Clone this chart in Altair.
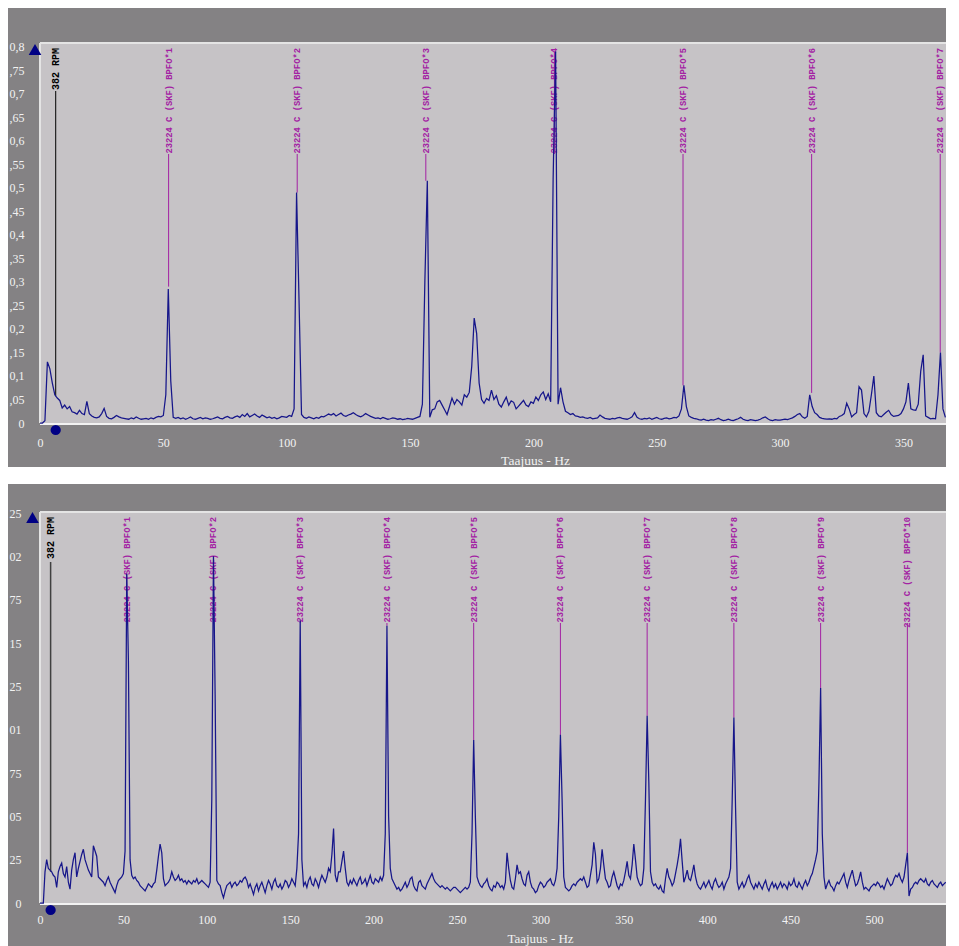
import json
import altair as alt
import pandas as pd

# ---------------- data ----------------
rpm_label = "382 RPM"
rpm_hz = 382 / 60
bpfo_name = "23224 C (SKF) BPFO"
x_title = "Taajuus - Hz"

# upper spectrum, 1 Hz bins, amplitude in thousandths
top_df_hz = 1.0
top_amp_milli = [
    0, 0, 5, 130, 115, 85, 60, 53, 48, 32,
    38, 30, 35, 24, 22, 19, 27, 20, 18, 46,
    20, 15, 12, 11, 13, 20, 31, 14, 10, 9,
    12, 16, 13, 11, 10, 9, 8, 11, 9, 13,
    10, 8, 9, 10, 8, 11, 9, 12, 14, 13,
    16, 60, 285, 90, 12, 10, 12, 9, 11, 8,
    10, 13, 9, 8, 10, 12, 9, 11, 10, 8,
    9, 11, 13, 10, 9, 12, 14, 11, 10, 13,
    15, 12, 18, 14, 20, 13, 16, 19, 15, 12,
    17, 14, 11, 13, 10, 12, 9, 11, 14, 13,
    12, 16, 14, 30, 490, 260, 18, 12, 10, 13,
    11, 9, 12, 10, 14, 13, 16, 19, 17, 20,
    15, 18, 21, 16, 14, 17, 19, 22, 18, 15,
    13, 16, 20, 17, 14, 12, 10, 11, 9, 12,
    10, 8, 9, 11, 10, 8, 9, 7, 8, 10,
    9, 8, 10, 12, 14, 40, 300, 515, 12, 28,
    30, 45, 48, 38, 28, 18, 35, 53, 40, 50,
    45, 38, 60, 55, 65, 120, 223, 190, 85, 50,
    42, 52, 48, 70, 50, 58, 40, 34, 45, 55,
    38, 47, 44, 30, 36, 42, 48, 38, 35, 45,
    42, 55, 48, 60, 66, 50, 62, 45, 520, 790,
    40, 75, 45, 25, 22, 18, 20, 15, 14, 12,
    13, 11, 10, 12, 9, 10, 11, 17, 13, 10,
    9, 8, 10, 9, 11, 12, 10, 9, 8, 10,
    13, 22, 12, 9, 8, 10, 9, 11, 8, 10,
    12, 9, 8, 10, 11, 9, 10, 12, 11, 15,
    30, 80, 35, 15, 12, 10, 9, 7, 6, 8,
    6, 5, 7, 6, 8, 10, 7, 5, 6, 8,
    6, 5, 7, 9, 12, 8, 6, 5, 7, 6,
    5, 6, 8, 11, 13, 9, 6, 5, 7, 6,
    6, 7, 8, 7, 9, 11, 14, 18, 20, 13,
    10, 14, 60, 35, 22, 18, 12, 10, 9, 8,
    9, 8, 10, 9, 14, 16, 20, 42, 30, 13,
    18, 22, 77, 70, 20, 13, 25, 60, 100, 22,
    15, 13, 18, 23, 27, 18, 14, 15, 16, 20,
    30, 45, 85, 30, 28, 27, 40, 110, 145, 15,
    12, 9, 10, 9, 60, 150, 30, 12, 20, 14,
    9, 11, 13,
]
top_bpfo_hz = 52.13
top_marker_amp = [0.29, 0.49, 0.515, 0.79, 0.08, 0.064, 0.15]
top_rpm_amp = 0.057
top_x_ticks = [0, 50, 100, 150, 200, 250, 300, 350]
top_y_ticks = [0, 0.05, 0.1, 0.15, 0.2, 0.25, 0.3, 0.35, 0.4,
               0.45, 0.5, 0.55, 0.6, 0.65, 0.7, 0.75, 0.8]
top_y_labels = ["0", ",05", "0,1", ",15", "0,2", ",25", "0,3", ",35", "0,4",
                ",45", "0,5", ",55", "0,6", ",65", "0,7", ",75", "0,8"]

# lower spectrum, 1 Hz bins, amplitude in thousandths
bottom_df_hz = 1.0
bottom_amp_milli = [
    0, 0, 0, 18, 25, 20, 19, 18, 16, 15,
    9, 18, 21, 23, 17, 15, 21, 12, 8, 19,
    25, 29, 15, 20, 24, 28, 31, 25, 22, 19,
    17, 15, 33, 30, 27, 15, 14, 13, 12, 10,
    13, 15, 12, 10, 8, 6, 10, 13, 14, 15,
    17, 30, 190, 140, 25, 16, 14, 15, 13, 12,
    10, 9, 8, 7, 9, 11, 10, 9, 11, 12,
    19, 27, 34, 29, 14, 10, 11, 12, 14, 18,
    15, 13, 14, 16, 13, 14, 12, 13, 11, 13,
    12, 11, 13, 12, 14, 11, 12, 13, 12, 11,
    10, 9, 12, 60, 200, 120, 13, 11, 10, 6,
    3, 7, 10, 11, 12, 9, 11, 12, 10, 11,
    13, 12, 14, 15, 13, 9, 11, 8, 5, 9,
    11, 7, 10, 12, 9, 6, 10, 13, 11, 8,
    12, 14, 10, 9, 11, 8, 10, 13, 12, 9,
    11, 14, 12, 10, 20, 40, 163, 25, 10, 12,
    9, 13, 15, 11, 10, 14, 12, 9, 13, 16,
    14, 12, 15, 20, 18, 28, 43, 16, 12, 18,
    18, 24, 30, 20, 12, 10, 13, 11, 14, 12,
    10, 13, 15, 11, 12, 14, 10, 13, 16, 12,
    11, 14, 13, 12, 15, 13, 16, 40, 160, 50,
    20, 14, 12, 10, 8, 9, 7, 8, 10, 12,
    9, 11, 14, 15, 10, 8, 7, 12, 13, 10,
    9, 8, 11, 13, 15, 17, 14, 12, 11, 10,
    9, 10, 9, 8, 9, 8, 7, 8, 9, 9,
    8, 7, 6, 7, 8, 9, 8, 9, 12, 40,
    94, 50, 15, 12, 10, 9, 11, 12, 14, 10,
    8, 7, 10, 9, 12, 11, 9, 10, 8, 12,
    29, 20, 13, 9, 8, 14, 22, 17, 18, 14,
    11, 10, 16, 18, 12, 9, 8, 6, 7, 10,
    12, 11, 9, 10, 12, 13, 14, 11, 10, 13,
    20, 50, 97, 60, 15, 9, 8, 7, 8, 10,
    11, 10, 12, 13, 14, 13, 15, 12, 9, 10,
    16, 22, 35, 28, 12, 14, 20, 31, 22, 14,
    12, 9, 10, 15, 18, 14, 10, 8, 11, 10,
    13, 18, 24, 16, 14, 22, 34, 25, 15, 12,
    10, 11, 20, 60, 108, 70, 18, 12, 10, 11,
    9, 8, 10, 7, 6, 14, 20, 15, 13, 10,
    12, 17, 22, 28, 37, 24, 12, 15, 19, 14,
    13, 17, 22, 15, 11, 9, 8, 10, 12, 9,
    11, 13, 10, 8, 12, 14, 11, 9, 10, 12,
    8, 11, 13, 15, 20, 60, 107, 55, 12, 8,
    10, 12, 9, 11, 14, 16, 12, 10, 8, 11,
    9, 12, 10, 8, 11, 13, 9, 7, 10, 12,
    9, 11, 8, 10, 12, 9, 11, 10, 8, 12,
    10, 11, 14, 10, 9, 12, 10, 8, 11, 13,
    10, 12, 15, 17, 21, 25, 30, 70, 124, 40,
    15, 8, 11, 13, 10, 9, 7, 10, 12, 11,
    13, 15, 17, 12, 9, 13, 16, 19, 14, 10,
    11, 14, 18, 12, 8, 9, 8, 7, 9, 10,
    11, 10, 12, 11, 9, 10, 8, 11, 14, 12,
    10, 11, 14, 16, 15, 17, 14, 12, 15, 22,
    29, 4, 8, 9, 11, 12, 11, 13, 14, 13,
    12, 14, 11, 10, 12, 13, 11, 10, 9, 11,
    12, 10, 11, 12, 13,
]
bottom_bpfo_hz = 52.0
bottom_marker_amp = [0.19, 0.2, 0.163, 0.16, 0.094, 0.097, 0.108, 0.107, 0.124, 0.029]
bottom_rpm_amp = 0.018
bottom_x_ticks = [0, 50, 100, 150, 200, 250, 300, 350, 400, 450, 500]
bottom_y_ticks = [0, 0.025, 0.05, 0.075, 0.1, 0.125, 0.15, 0.175, 0.2, 0.225]
bottom_y_labels = ["0", "25", "05", "75", "01", "25", "15", "75", "02", "25"]

# ---------------- style ----------------
DARK = "#848284"
LIGHT = "#c6c3c6"
BORDER = "#e4e4e4"
LABEL = "#f2f2f2"
NAVY = "#000084"
LINE = "#16168a"
MAG = "#a321a3"
SERIF = "Liberation Serif"
MONO = "Liberation Mono"
LEFT = 32
PLOT_W = 906


def panel(amp_milli, df_hz, bpfo_hz, marker_amp, rpm_amp, x_ticks, x_max,
          y_ticks, y_labels, y_step, y_max, width, height, pad_top, pad_bottom,
          label_pad_x, label_pad_y, title_x, title_y, title_size, rule_top,
          rpm_rule_top, tri_x, tri_y, rpm_color, rpm_width):
    spec_df = pd.DataFrame({
        "hz": [i * df_hz for i in range(len(amp_milli))],
        "amp": [v / 1000.0 for v in amp_milli],
    })
    ks = list(range(1, len(marker_amp) + 1))
    mark_df = pd.DataFrame({
        "hz": [bpfo_hz * k for k in ks],
        "amp": marker_amp,
        "label": [f"{bpfo_name}*{k}" for k in ks],
    })
    rpm_df = pd.DataFrame({"hz": [rpm_hz], "amp": [rpm_amp], "label": [rpm_label]})
    one = alt.Data(values=[{"a": 1}])

    xs = alt.Scale(domain=[0, x_max], nice=False, zero=False)
    ys = alt.Scale(domain=[0, y_max], nice=False, zero=False)

    x_axis = alt.Axis(
        values=x_ticks, ticks=False, tickSize=0, domain=False,
        grid=False, labelColor=LABEL, labelFont=SERIF, labelFontSize=12,
        labelPadding=label_pad_x, labelFlush=False, labelOverlap=False,
        zindex=1, title=x_title, titleColor=LABEL, titleFont=SERIF,
        titleFontSize=title_size, titleFontWeight="normal", titleX=title_x,
        titleY=title_y, titleAlign="center", titleBaseline="alphabetic")
    y_axis = alt.Axis(
        values=y_ticks, labelExpr=f"{json.dumps(y_labels)}[round(datum.value / {y_step})]",
        title=None, ticks=False, tickSize=0, domain=False, grid=False,
        labelColor=LABEL, labelFont=SERIF, labelFontSize=12,
        labelPadding=label_pad_y, labelAlign="right", labelBaseline="middle",
        labelOverlap=False, zindex=1,
    )
    xf = alt.X("hz:Q", scale=xs, axis=x_axis)
    yf = alt.Y("amp:Q", scale=ys, axis=y_axis)

    dark = alt.Chart(one).mark_rect(color=DARK).encode(
        x=alt.value(-LEFT), x2=alt.value(width),
        y=alt.value(-pad_top), y2=alt.value(height + pad_bottom))
    plot_bg = alt.Chart(one).mark_rect(fill=LIGHT).encode(
        x=alt.value(0), x2=alt.value(width), y=alt.value(0), y2=alt.value(height))
    border_top = alt.Chart(one).mark_rule(color=BORDER, strokeWidth=2).encode(
        x=alt.value(0), x2=alt.value(width), y=alt.value(0))
    border_left = alt.Chart(one).mark_rule(color=BORDER, strokeWidth=2).encode(
        x=alt.value(0), y=alt.value(0), y2=alt.value(height))
    border_bottom = alt.Chart(one).mark_rule(color="#f2f2f2", strokeWidth=2).encode(
        x=alt.value(0), x2=alt.value(width), y=alt.value(height + 1))
    bp_rules = alt.Chart(mark_df).mark_rule(color=MAG, strokeWidth=1).encode(
        x=xf, y=yf, y2=alt.value(rule_top))
    rpm_rule = alt.Chart(rpm_df).mark_rule(color=rpm_color, strokeWidth=rpm_width).encode(
        x=xf, y=yf, y2=alt.value(rpm_rule_top))
    bp_text = alt.Chart(mark_df).mark_text(
        angle=270, align="right", baseline="middle", font=MONO, fontSize=8.8,
        fontWeight="bold", color=MAG).encode(x=xf, y=alt.value(5), text="label:N")
    rpm_text = alt.Chart(rpm_df).mark_text(
        angle=270, align="right", baseline="middle", font=MONO, fontSize=10,
        fontWeight="bold", color="black").encode(x=xf, y=alt.value(5), text="label:N")
    line = alt.Chart(spec_df).mark_line(color=LINE, strokeWidth=1.25).encode(
        x=xf, y=yf).transform_filter(alt.datum.hz <= x_max)
    dot = alt.Chart(rpm_df).mark_point(
        shape="circle", filled=True, size=105, color=NAVY, opacity=1).encode(
        x=xf, y=alt.value(height + 7))
    tri = alt.Chart(one).mark_point(
        shape="triangle-up", filled=True, size=160, color=NAVY, opacity=1).encode(
        x=alt.value(tri_x), y=alt.value(tri_y))
    return alt.layer(dark, plot_bg, border_top, border_left, border_bottom,
                     bp_rules, rpm_rule, bp_text, rpm_text, line, dot,
                     tri).properties(width=width, height=height)


top = panel(top_amp_milli, top_df_hz, top_bpfo_hz, top_marker_amp, top_rpm_amp,
            top_x_ticks, PLOT_W / 2.467, top_y_ticks, top_y_labels, 0.05, 0.808,
            PLOT_W, 380, 35, 44, 14, 16, 495, 41, 13.5, 111, 48, -5, 6.5,
            "black", 1)

bottom = panel(bottom_amp_milli, bottom_df_hz, bottom_bpfo_hz, bottom_marker_amp,
               bottom_rpm_amp, bottom_x_ticks, PLOT_W / 1.668, bottom_y_ticks,
               bottom_y_labels, 0.025, 0.2256, PLOT_W, 391, 28, 60, 11, 19, 500,
               39, 13, 111, 50, -7.5, 5.5, "#404040", 1.5)

chart = alt.vconcat(top, bottom, spacing=17, padding=0, background="white").configure_view(
    strokeWidth=0)

chart.save("out.html", embed_options={"renderer": "svg", "actions": False})
